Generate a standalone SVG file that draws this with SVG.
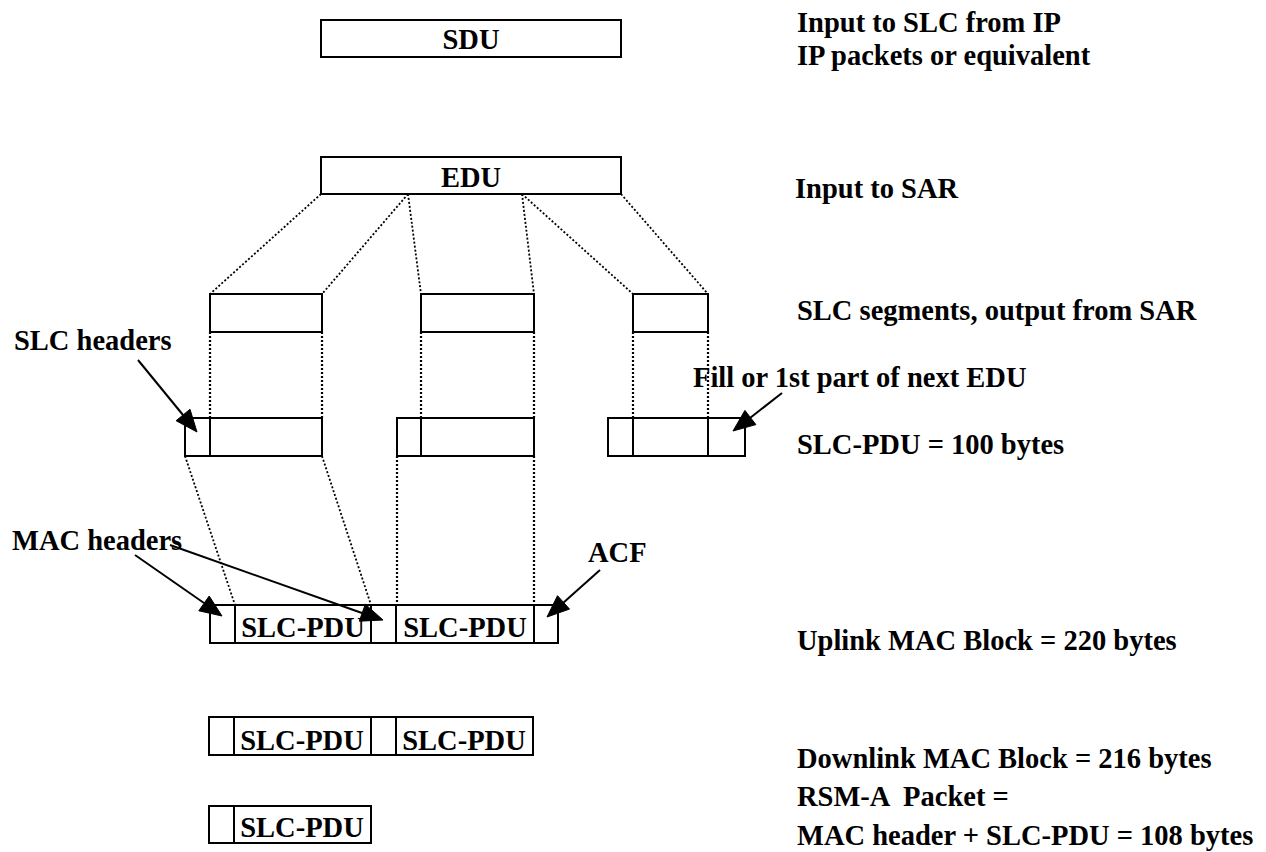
<svg xmlns="http://www.w3.org/2000/svg" width="1266" height="852" viewBox="0 0 1266 852">
<defs>
<style>
.box{fill:#fff;stroke:#000;stroke-width:2}
.div{stroke:#000;stroke-width:2;fill:none}
.dot{stroke:#000;stroke-width:1.8;stroke-dasharray:2 2;fill:none}
.vdot{stroke:#000;stroke-width:2.2;stroke-dasharray:2 2;fill:none}
.arr{stroke:#000;stroke-width:2;fill:none}
.ahd{fill:#000;stroke:#000;stroke-width:1}
text{font-family:"Liberation Serif","Times New Roman",serif;font-weight:bold;font-size:28.5px;fill:#000;white-space:pre}
.c{text-anchor:middle}
</style>
</defs>
<rect width="1266" height="852" fill="#fff"/>

<g id="sdu">
<rect class="box" x="321" y="20" width="300" height="37"/>
<text class="c" x="471" y="49">SDU</text>
</g>
<g id="edu">
<rect class="box" x="321" y="157" width="300" height="37"/>
<text class="c" x="471" y="187">EDU</text>
</g>
<g id="seg1"><rect class="box" x="210" y="294" width="112" height="38"/></g>
<g id="seg2"><rect class="box" x="421" y="294" width="113" height="38"/></g>
<g id="seg3"><rect class="box" x="633" y="294" width="75" height="38"/></g>

<g id="pdu1">
<rect class="box" x="185" y="418" width="137" height="38"/>
<line class="div" x1="210" y1="418" x2="210" y2="456"/>
</g>
<g id="pdu2">
<rect class="box" x="397" y="418" width="137" height="38"/>
<line class="div" x1="421" y1="418" x2="421" y2="456"/>
</g>
<g id="pdu3">
<rect class="box" x="608" y="418" width="137" height="38"/>
<line class="div" x1="633" y1="418" x2="633" y2="456"/>
<line class="div" x1="708" y1="418" x2="708" y2="456"/>
</g>

<g id="uplink">
<rect class="box" x="210" y="605" width="348" height="38"/>
<line class="div" x1="235" y1="605" x2="235" y2="643"/>
<line class="div" x1="371" y1="605" x2="371" y2="643"/>
<line class="div" x1="396" y1="605" x2="396" y2="643"/>
<line class="div" x1="534" y1="605" x2="534" y2="643"/>
<text class="c" x="303" y="637">SLC-PDU</text>
<text class="c" x="465" y="637">SLC-PDU</text>
</g>

<g id="downlink">
<rect class="box" x="209" y="717" width="324" height="38"/>
<line class="div" x1="234" y1="717" x2="234" y2="755"/>
<line class="div" x1="371" y1="717" x2="371" y2="755"/>
<line class="div" x1="396" y1="717" x2="396" y2="755"/>
<text class="c" x="302" y="750">SLC-PDU</text>
<text class="c" x="464" y="750">SLC-PDU</text>
</g>

<g id="rsm">
<rect class="box" x="209" y="806" width="162" height="37"/>
<line class="div" x1="234" y1="806" x2="234" y2="843"/>
<text class="c" x="302" y="837">SLC-PDU</text>
</g>

<g id="labels">
<text x="797" y="32">Input to SLC from IP</text>
<text x="797" y="65">IP packets or equivalent</text>
<text x="795" y="198">Input to SAR</text>
<text x="797" y="320">SLC segments, output from SAR</text>
<text x="14" y="350">SLC headers</text>
<text x="693" y="387">Fill or 1st part of next EDU</text>
<text x="797" y="454">SLC-PDU = 100 bytes</text>
<text x="12" y="550">MAC headers</text>
<text x="588" y="562">ACF</text>
<text x="797" y="650">Uplink MAC Block = 220 bytes</text>
<text x="797" y="768">Downlink MAC Block = 216 bytes</text>
<text x="797" y="806">RSM-A  Packet =</text>
<text x="797" y="845">MAC header + SLC-PDU = 108 bytes</text>
</g>

<g id="connectors">
<line class="dot" x1="321" y1="194" x2="210" y2="294"/>
<line class="dot" x1="408" y1="194" x2="322" y2="294"/>
<line class="dot" x1="408" y1="194" x2="421" y2="294"/>
<line class="dot" x1="522" y1="194" x2="534" y2="294"/>
<line class="dot" x1="522" y1="194" x2="633" y2="294"/>
<line class="dot" x1="621" y1="194" x2="708" y2="294"/>
<line class="vdot" x1="210" y1="332" x2="210" y2="418"/>
<line class="vdot" x1="322" y1="332" x2="322" y2="418"/>
<line class="vdot" x1="421" y1="332" x2="421" y2="418"/>
<line class="vdot" x1="534" y1="332" x2="534" y2="418"/>
<line class="vdot" x1="633" y1="332" x2="633" y2="418"/>
<line class="vdot" x1="708" y1="332" x2="708" y2="418"/>
<line class="dot" x1="185" y1="456" x2="235" y2="605"/>
<line class="dot" x1="322" y1="456" x2="371" y2="605"/>
<line class="vdot" x1="397" y1="456" x2="397" y2="605"/>
<line class="vdot" x1="534" y1="456" x2="534" y2="605"/>
<g id="arrow-slc-headers">
<line class="arr" x1="138" y1="360" x2="183" y2="415"/>
<polygon class="ahd" points="197,432 176.1,420.7 190,409.3"/>
</g>
<g id="arrow-fill">
<line class="arr" x1="782" y1="393" x2="750" y2="418"/>
<polygon class="ahd" points="733,431 744.9,410.4 755.9,424.6"/>
</g>
<g id="arrow-mac1">
<line class="arr" x1="135" y1="555" x2="204" y2="603"/>
<polygon class="ahd" points="222,616 198.8,610.8 209.2,596"/>
</g>
<g id="arrow-mac2">
<line class="arr" x1="170" y1="545" x2="362" y2="613"/>
<polygon class="ahd" points="383,620 359.3,621.2 365.3,604.2"/>
</g>
<g id="arrow-acf">
<line class="arr" x1="600" y1="570" x2="563" y2="603"/>
<polygon class="ahd" points="547,617 557.5,595.7 569.5,609.1"/>
</g>
</g>
</svg>
